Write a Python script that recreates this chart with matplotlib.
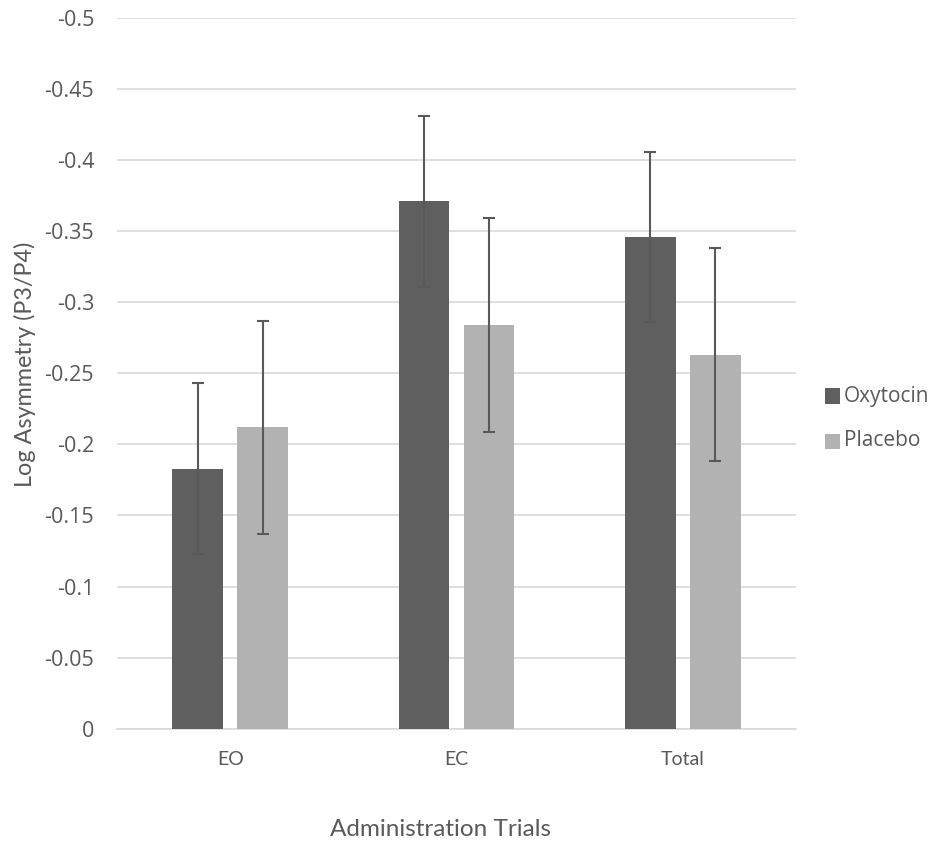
import matplotlib
matplotlib.use("Agg")
import matplotlib.pyplot as plt
import numpy as np
from matplotlib.patches import Rectangle

categories = ["EO", "EC", "Total"]
series_names = ["Oxytocin", "Placebo"]
oxytocin = [-0.183, -0.371, -0.346]
placebo = [-0.212, -0.284, -0.263]
oxytocin_err = [0.060, 0.060, 0.060]
placebo_err = [0.075, 0.075, 0.075]
yticks = [0, -0.05, -0.1, -0.15, -0.2, -0.25, -0.3, -0.35, -0.4, -0.45, -0.5]
ytick_labels = ["0", "-0.05", "-0.1", "-0.15", "-0.2", "-0.25", "-0.3", "-0.35", "-0.4", "-0.45", "-0.5"]

text_color = "#595959"
c_oxy = "#5f5f5f"
c_pla = "#b2b2b2"
grid_c = "#d9d9d9"

W, H = 935, 850
fig = plt.figure(figsize=(W / 100, H / 100), dpi=100)
ax = fig.add_axes([117 / W, (H - 728.7) / H, 679 / W, 710.7 / H])

x = np.arange(len(categories))
w = 0.224
off = 0.143
ekw = dict(ecolor="#595959", elinewidth=1.5, capsize=4, capthick=1.5)
ax.bar(x - off, oxytocin, w, color=c_oxy, yerr=oxytocin_err, error_kw=ekw, zorder=3)
ax.bar(x + off, placebo, w, color=c_pla, yerr=placebo_err, error_kw=ekw, zorder=3)

ax.set_xlim(-0.5, 2.5)
ax.set_ylim(0, -0.5)
ax.set_yticks(yticks)
ax.set_yticklabels(ytick_labels, fontfamily="Open Sans", fontsize=15.5, color=text_color)
ax.set_xticks(x)
ax.set_xticklabels(categories, fontfamily="Lato", fontsize=14, color=text_color)
ax.tick_params(axis="both", length=0)
ax.tick_params(axis="y", pad=16.5)
ax.tick_params(axis="x", pad=16)
ax.grid(axis="y", color=grid_c, linewidth=1.2, zorder=0)
ax.set_axisbelow(True)
for s in ["top", "right", "left"]:
    ax.spines[s].set_visible(False)
ax.spines["bottom"].set_color(grid_c)
ax.spines["bottom"].set_linewidth(1.2)

ax.set_ylabel("Log Asymmetry (P3/P4)", fontfamily="Lato", fontsize=16.8,
              color=text_color, va="center")
ax.yaxis.set_label_coords((25 - 117) / 679, (728.7 - 364) / 710.7)
ax.set_xlabel("Administration Trials", fontfamily="Lato", fontsize=17.5,
              color=text_color, va="center")
ax.xaxis.set_label_coords((440 - 117) / 679, (728.7 - 830) / 710.7)

# legend
leg_y = [396, 441]
leg_cols = [c_oxy, c_pla]
for name, col, yy in zip(series_names, leg_cols, leg_y):
    fig.patches.append(Rectangle((825 / W, (H - yy - 7.5) / H), 15 / W, 15 / H,
                                 transform=fig.transFigure, facecolor=col,
                                 edgecolor="none", figure=fig))
    fig.text(844 / W, (H - yy) / H, name, fontfamily="Open Sans", fontsize=15,
             color=text_color, va="center", ha="left")

fig.savefig("out.png", dpi=100)
